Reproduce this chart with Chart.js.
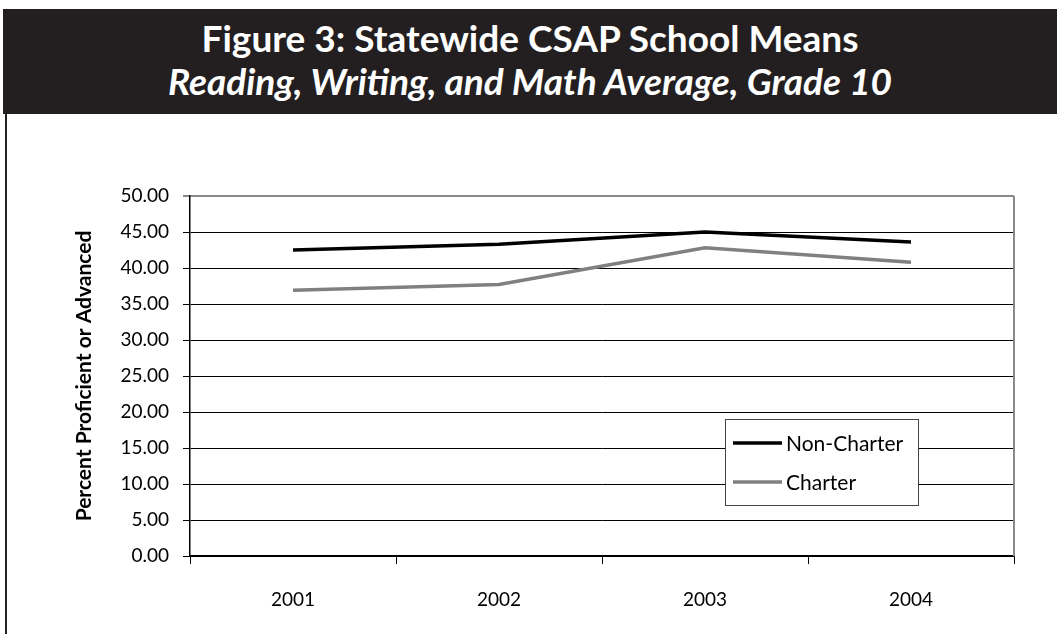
<!DOCTYPE html>
<html>
<head>
<meta charset="utf-8">
<script src="https://cdn.jsdelivr.net/npm/chart.js@4"></script>
<style>
  body { margin: 0; background: #fff; width: 1057px; height: 634px; overflow: hidden; position: relative; font-family: Lato, sans-serif; }
  #head { position: absolute; left: 3px; top: 9px; right: 0; height: 105px; background: #231f20; color: #fff; text-align: center; }
  #head div { position: absolute; left: 0; right: 0; font-size: 37px; line-height: 40px; font-weight: bold; white-space: nowrap; }
  #head .l1 { top: 9px; }
  #head .l2 { top: 52px; font-style: italic; }
  #frame { position: absolute; left: 5px; top: 114px; width: 0; height: 520px; border-left: 2px solid #222; }
  #wrap { position: absolute; left: 0; top: 114px; width: 1057px; height: 520px; }
</style>
</head>
<body>
<div id="head">
  <div class="l1">Figure 3: Statewide CSAP School Means</div>
  <div class="l2">Reading, Writing, and Math Average, Grade 10</div>
</div>
<div id="frame"></div>
<div id="wrap"><canvas id="csapChart" width="1057" height="520"></canvas></div>
<script>
// data
const years = ['2001', '2002', '2003', '2004'];
const nonCharter = [42.5, 43.3, 45.0, 43.6];
const charter = [36.9, 37.7, 42.8, 40.8];

// legend box drawn inside the plot, like the original
const boxLegend = {
  id: 'boxLegend',
  afterDatasetsDraw(chart) {
    const ctx = chart.ctx;
    const a = chart.chartArea;
    const x = a.left + 535, y = a.top + 223;
    ctx.save();
    ctx.fillStyle = '#fff';
    ctx.fillRect(x, y, 193, 86);
    ctx.strokeStyle = '#444';
    ctx.lineWidth = 1;
    ctx.strokeRect(x + 0.5, y + 0.5, 193, 86);
    ctx.font = '21px Lato, sans-serif';
    ctx.textBaseline = 'middle';
    chart.data.datasets.forEach((ds, i) => {
      const ly = y + 24 + i * 39;
      ctx.strokeStyle = ds.borderColor;
      ctx.lineWidth = 3.5;
      ctx.beginPath();
      ctx.moveTo(x + 8, ly);
      ctx.lineTo(x + 57, ly);
      ctx.stroke();
      ctx.fillStyle = '#000';
      ctx.fillText(ds.label, x + 61, ly + 1);
    });
    ctx.restore();
  }
};

// gray right edge of the plot area
const plotFrame = {
  id: 'plotFrame',
  beforeDatasetsDraw(chart) {
    const ctx = chart.ctx;
    const a = chart.chartArea;
    ctx.save();
    ctx.strokeStyle = '#888';
    ctx.lineWidth = 2;
    ctx.beginPath();
    ctx.moveTo(a.right, a.top);
    ctx.lineTo(a.right, a.bottom);
    ctx.stroke();
    ctx.restore();
  }
};

const ctx = document.getElementById('csapChart').getContext('2d');
new Chart(ctx, {
  type: 'line',
  data: {
    labels: years,
    datasets: [
      {
        label: 'Non-Charter',
        data: nonCharter,
        borderColor: '#000000',
        borderWidth: 3.5,
        pointRadius: 0,
        tension: 0
      },
      {
        label: 'Charter',
        data: charter,
        borderColor: '#808080',
        borderWidth: 3.5,
        pointRadius: 0,
        tension: 0
      }
    ]
  },
  options: {
    responsive: false,
    animation: false,
    layout: { padding: { left: 0, right: 43, top: 82, bottom: 0 } },
    plugins: { legend: { display: false }, tooltip: { enabled: false } },
    scales: {
      x: {
        offset: true,
        grid: { drawOnChartArea: false, offset: true, tickLength: 8, color: '#000' },
        border: { color: '#000', width: 1.5 },
        ticks: { color: '#000', padding: 24, font: { family: 'Lato, sans-serif', size: 19 } },
        afterFit: (s) => { s.height = 78; }
      },
      y: {
        min: 0,
        max: 50,
        ticks: {
          stepSize: 5,
          color: '#000',
          padding: 14,
          font: { family: 'Lato, sans-serif', size: 19 },
          callback: (v) => v.toFixed(2)
        },
        grid: {
          tickLength: 7,
          color: (c) => (c.tick && c.tick.value === 50 ? '#888' : '#000'),
          lineWidth: (c) => (c.tick && c.tick.value === 50 ? 2 : 1)
        },
        border: { color: '#000', width: 1.5 },
        title: {
          display: true,
          text: 'Percent Proficient or Advanced',
          color: '#000',
          padding: { top: 72, bottom: 0 },
          font: { family: 'Lato, sans-serif', size: 21, weight: 'bold' }
        },
        afterFit: (s) => { s.width = 190; }
      }
    }
  },
  plugins: [plotFrame, boxLegend]
});
</script>
</body>
</html>
